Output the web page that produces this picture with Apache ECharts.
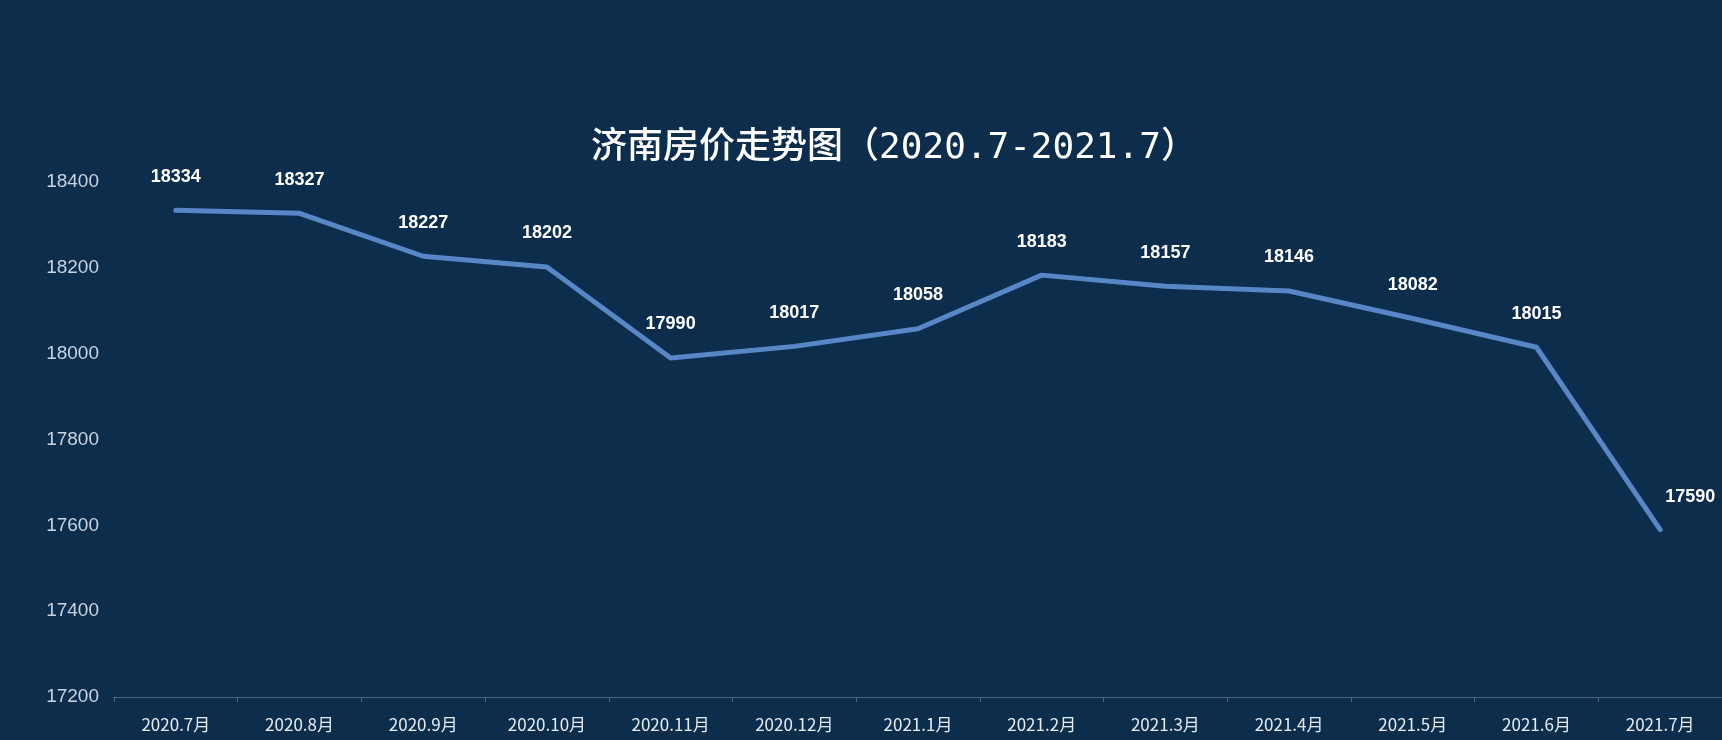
<!DOCTYPE html>
<html>
<head>
<meta charset="utf-8">
<script src="https://cdn.jsdelivr.net/npm/echarts@6/dist/echarts.min.js"></script>
<style>
html,body{margin:0;padding:0;background:#0c2d4c;}
#c{width:1722px;height:740px;}
</style>
</head>
<body>
<div id="c"></div>
<script>
const categories = ['2020.7月','2020.8月','2020.9月','2020.10月','2020.11月','2020.12月','2021.1月','2021.2月','2021.3月','2021.4月','2021.5月','2021.6月','2021.7月'];
const prices = [18334, 18327, 18227, 18202, 17990, 18017, 18058, 18183, 18157, 18146, 18082, 18015, 17590];
const yTicks = [17200, 17400, 17600, 17800, 18000, 18200, 18400];
const titleText = '济南房价走势图（2020.7-2021.7）';

const chart = echarts.init(document.getElementById('c'));
const seriesData = prices.map((v, i) => {
  if (i === prices.length - 1) {
    return { value: v, label: { position: 'top', offset: [30, 1] } };
  }
  return v;
});
chart.setOption({
  backgroundColor: '#0c2d4c',
  title: {
    text: titleText,
    left: 889,
    top: 126,
    textAlign: 'center',
    textStyle: {
      color: '#ffffff',
      fontSize: 36,
      fontWeight: 500,
      fontFamily: '"DejaVu Sans Mono", "Noto Sans CJK SC", sans-serif'
    }
  },
  grid: { left: 114, right: 0, top: 182, bottom: 43, containLabel: false },
  xAxis: {
    type: 'category',
    data: categories,
    boundaryGap: true,
    axisLine: { lineStyle: { color: 'rgba(120,150,180,0.55)', width: 1 } },
    axisTick: { show: true, length: 5, lineStyle: { color: 'rgba(120,150,180,0.55)' } },
    axisLabel: {
      color: '#e6ecf2',
      fontSize: 17,
      margin: 19,
      interval: 0,
      fontFamily: '"Noto Sans CJK SC", sans-serif'
    }
  },
  yAxis: {
    type: 'value',
    min: yTicks[0],
    max: yTicks[yTicks.length - 1],
    interval: 200,
    axisLine: { show: false },
    axisTick: { show: false },
    splitLine: { show: false },
    axisLabel: {
      color: '#c9d4e0',
      fontSize: 19,
      margin: 15,
      formatter: v => String(v),
      fontFamily: 'Arial, "Liberation Sans", sans-serif'
    }
  },
  series: [{
    type: 'line',
    data: seriesData,
    symbol: 'circle',
    symbolSize: 1,
    showSymbol: true,
    itemStyle: { color: '#5787c6' },
    smooth: false,
    lineStyle: { color: '#5787c6', width: 5, cap: 'round', join: 'round' },
    label: {
      show: true,
      position: 'top',
      distance: 24,
      color: '#ffffff',
      fontSize: 18,
      fontWeight: 'bold',
      fontFamily: 'Arial, "Liberation Sans", sans-serif'
    }
  }]
});
</script>
</body>
</html>
